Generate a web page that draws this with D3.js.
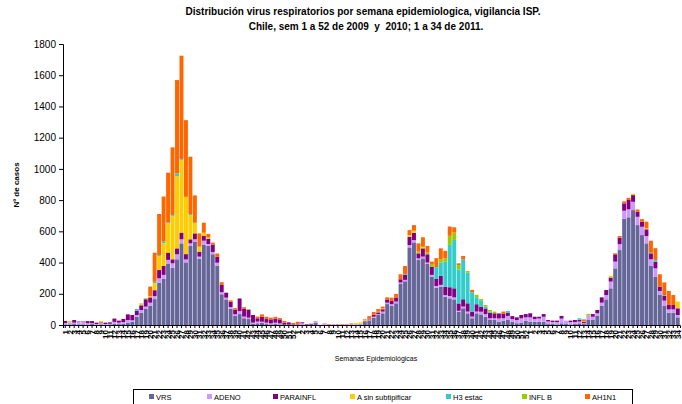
<!DOCTYPE html>
<html><head><meta charset="utf-8">
<script src="https://cdn.jsdelivr.net/npm/d3@7"></script>
<style>body{margin:0;background:#fff;font-family:"Liberation Sans",Arial,sans-serif;}</style>
</head><body><svg id="c" width="682" height="404"></svg>
<script>
const seriesNames = ["VRS","ADENO","PARAINFL","A sin subtipificar","H3 estac","INFL B","AH1N1"];
const seriesColors = ["#666699","#CC99FF","#800080","#FFCC00","#33CCCC","#99CC00","#FF6600"];
const yTicks = [0,200,400,600,800,1000,1200,1400,1600,1800];

// week labels: 2009 w1-52, 2010 w1-52, 2011 w1-34
const weekLabels = [];
for (let w = 1; w <= 52; w++) weekLabels.push("" + w);
for (let w = 1; w <= 52; w++) weekLabels.push("" + w);
for (let w = 1; w <= 34; w++) weekLabels.push("" + w);

const VRS = [
 4,4,6,4,4,4,6,2,4,2,4,9,6,9,15,21,53,79,105,124,166,271,295,391,367,421,523,401,506,532,425,514,508,453,380,197,164,104,58,70,43,38,9,11,15,6,4,6,4,2,0,0,
 0,0,0,0,15,0,0,0,0,0,0,0,2,2,4,21,30,47,64,75,134,124,139,263,280,497,529,416,427,391,310,239,246,181,171,164,85,107,75,43,75,68,53,32,32,21,28,32,21,11,15,28,
 21,21,21,21,6,6,4,11,6,4,6,11,6,32,32,60,122,164,235,363,480,681,690,736,640,576,523,378,310,192,122,79,79,49];
const ADENO = [
 9,13,9,19,19,8,6,4,9,4,4,11,9,9,17,9,11,17,13,19,19,28,26,26,28,32,26,19,17,17,13,26,11,15,19,13,11,11,11,19,11,9,6,11,6,9,6,9,6,0,2,0,
 4,11,2,2,11,2,11,2,6,2,2,2,2,4,4,2,6,6,6,11,9,9,11,9,9,15,15,11,11,9,11,11,11,11,15,13,6,11,11,11,11,17,17,11,11,21,15,26,17,21,28,21,
 28,17,21,32,17,13,15,30,22,15,13,11,6,28,21,15,21,28,43,43,38,51,51,53,53,53,47,43,53,26,34,21,21,15];
const PARAINFL = [
 13,0,17,2,2,13,13,9,4,9,9,21,13,21,36,34,28,30,47,34,38,53,58,47,26,38,43,34,26,38,32,30,32,47,38,47,32,34,28,81,49,51,49,21,32,23,26,26,26,13,15,4,
 6,6,4,6,0,0,0,0,0,2,0,2,0,0,0,4,4,13,11,15,21,21,26,21,32,53,47,32,53,53,53,45,58,53,56,58,47,47,53,32,47,32,36,36,32,32,28,21,19,17,21,21,
 26,15,11,17,9,9,9,17,0,9,13,11,9,0,17,21,34,32,26,47,41,47,60,43,32,32,43,38,43,28,30,28,28,43];
const ASIN = [
 0,9,0,0,0,0,0,0,9,0,0,0,0,0,0,0,0,6,0,9,45,90,145,186,278,463,465,367,156,68,32,21,9,0,0,0,0,0,0,0,0,0,0,0,0,0,0,0,0,0,0,0,
 0,0,0,0,0,0,0,0,0,0,0,0,0,6,9,6,0,0,4,4,0,0,0,0,0,11,13,0,6,0,0,0,0,0,0,0,0,0,0,0,0,0,0,0,0,0,0,0,0,0,0,0,
 0,0,0,0,0,0,0,0,0,0,0,0,4,0,0,0,0,0,11,0,0,0,0,9,0,0,6,0,0,0,0,0,0,43];
const H3 = [
 0,0,0,0,0,0,0,0,0,0,0,0,0,0,0,0,11,0,0,0,9,6,11,6,6,17,4,0,6,0,0,0,0,0,0,0,0,0,0,0,0,0,0,0,0,0,0,0,0,0,0,0,
 0,0,0,0,0,0,0,0,0,0,0,0,0,0,0,0,0,0,0,0,0,0,0,0,6,0,0,0,0,0,0,75,85,160,271,310,218,256,196,124,45,38,11,6,0,0,0,11,0,0,0,0,
 0,0,0,0,0,0,0,0,0,0,0,10,0,0,0,0,0,0,0,0,0,0,0,0,0,0,0,4,11,0,6,0,0,0];
const INFLB = [
 0,0,0,0,0,0,0,0,0,0,0,2,0,0,0,0,0,6,6,0,0,0,0,0,0,0,0,0,0,0,0,0,0,0,0,0,0,0,0,0,0,4,0,0,0,0,0,0,0,0,0,0,
 0,0,0,0,0,0,0,0,0,0,0,0,0,0,0,0,0,0,0,0,0,0,0,0,0,0,0,11,9,11,17,0,21,21,58,47,28,0,11,0,15,11,11,11,11,0,0,0,0,0,0,0,
 0,0,0,0,0,0,0,0,0,0,0,0,0,11,0,0,0,0,0,0,0,0,0,0,0,0,0,0,0,0,0,0,0,0];
const AH1N1 = [
 0,0,0,0,0,0,0,0,0,0,0,0,0,0,0,0,0,0,0,60,186,263,288,320,433,598,664,491,367,175,85,64,23,13,21,17,0,9,11,0,11,0,0,11,15,15,11,11,9,11,0,9,
 11,0,0,0,0,0,0,4,0,0,4,0,6,0,0,4,17,17,17,13,13,21,23,32,51,32,36,53,56,43,15,58,70,49,60,34,11,21,0,15,0,0,0,0,0,0,15,0,0,0,0,0,
 0,0,0,0,0,0,0,0,0,0,0,0,11,0,0,0,0,0,0,6,11,13,13,0,15,17,43,77,75,79,81,90,64,0];

const seriesData = [VRS, ADENO, PARAINFL, ASIN, H3, INFLB, AH1N1];

const rows = weekLabels.map((lab, i) => {
  const r = {i: i, label: lab};
  seriesNames.forEach((s, k) => r[s] = seriesData[k][i]);
  return r;
});

const svg = d3.select("#c");
const x = d3.scaleBand().domain(d3.range(weekLabels.length)).range([63, 680]).paddingInner(0.12).paddingOuter(0.06);
const y = d3.scaleLinear().domain([0, 1800]).range([325, 44]);

const stack = d3.stack().keys(seriesNames)(rows);
svg.append("g").selectAll("g").data(stack).join("g")
  .attr("fill", (d, k) => seriesColors[k])
  .selectAll("rect").data(d => d).join("rect")
  .attr("x", d => x(d.data.i))
  .attr("width", x.bandwidth())
  .attr("y", d => y(d[1]))
  .attr("height", d => Math.max(0, y(d[0]) - y(d[1])));

// Y axis
const yAxis = d3.axisLeft(y).tickValues(yTicks).tickSize(4).tickFormat(d3.format("d"));
const gy = svg.append("g").attr("transform", "translate(63,0)").call(yAxis);
gy.select(".domain").attr("stroke", "#000");
gy.selectAll("text").attr("font-size", "10px").attr("font-family", "Liberation Sans, Arial, sans-serif").attr("x", -7);

// X axis
const xb = d3.scaleBand().domain(d3.range(weekLabels.length)).range([63, 680]);
const xAxis = d3.axisBottom(xb).tickSize(3).tickFormat(i => weekLabels[i]);
const gx = svg.append("g").attr("transform", "translate(0,325)").call(xAxis);
gx.select(".domain").attr("stroke", "#000");
gx.selectAll("text")
  .attr("font-size", "8px").attr("font-weight", "bold").attr("fill", "#000")
  .attr("font-family", "Liberation Sans, Arial, sans-serif")
  .attr("transform", "rotate(-90)").attr("text-anchor", "end")
  .attr("x", -5).attr("y", 0).attr("dy", "0.35em");

// Titles
svg.append("text").attr("x", 363).attr("y", 15).attr("text-anchor", "middle")
  .attr("font-size", "10px").attr("font-weight", "bold")
  .text("Distribución virus respiratorios por semana epidemiologica, vigilancia ISP.");
svg.append("text").attr("x", 366).attr("y", 30).attr("text-anchor", "middle")
  .attr("font-size", "10px").attr("font-weight", "bold").attr("xml:space", "preserve")
  .text("Chile, sem 1 a 52 de 2009  y  2010; 1 a 34 de 2011.");

svg.append("text").attr("transform", "translate(19,185) rotate(-90)").attr("text-anchor", "middle")
  .attr("font-size", "8px").attr("font-weight", "bold").text("Nº de casos");

svg.append("text").attr("x", 376).attr("y", 361).attr("text-anchor", "middle")
  .attr("font-size", "7px").text("Semanas Epidemiológicas");

// Legend
svg.append("rect").attr("x", 133.5).attr("y", 389.5).attr("width", 499).attr("height", 20)
  .attr("fill", "none").attr("stroke", "#000").attr("stroke-width", 1);
const legX = [149, 207, 273, 350, 446, 522, 585];
const lg = svg.append("g").selectAll("g").data(seriesNames).join("g")
  .attr("transform", (d, k) => `translate(${legX[k]},394)`);
lg.append("rect").attr("width", 5).attr("height", 5).attr("fill", (d, k) => seriesColors[k]);
lg.append("text").attr("x", 7).attr("y", 5.5).attr("font-size", "7.5px").text(d => d);
</script></body></html>
